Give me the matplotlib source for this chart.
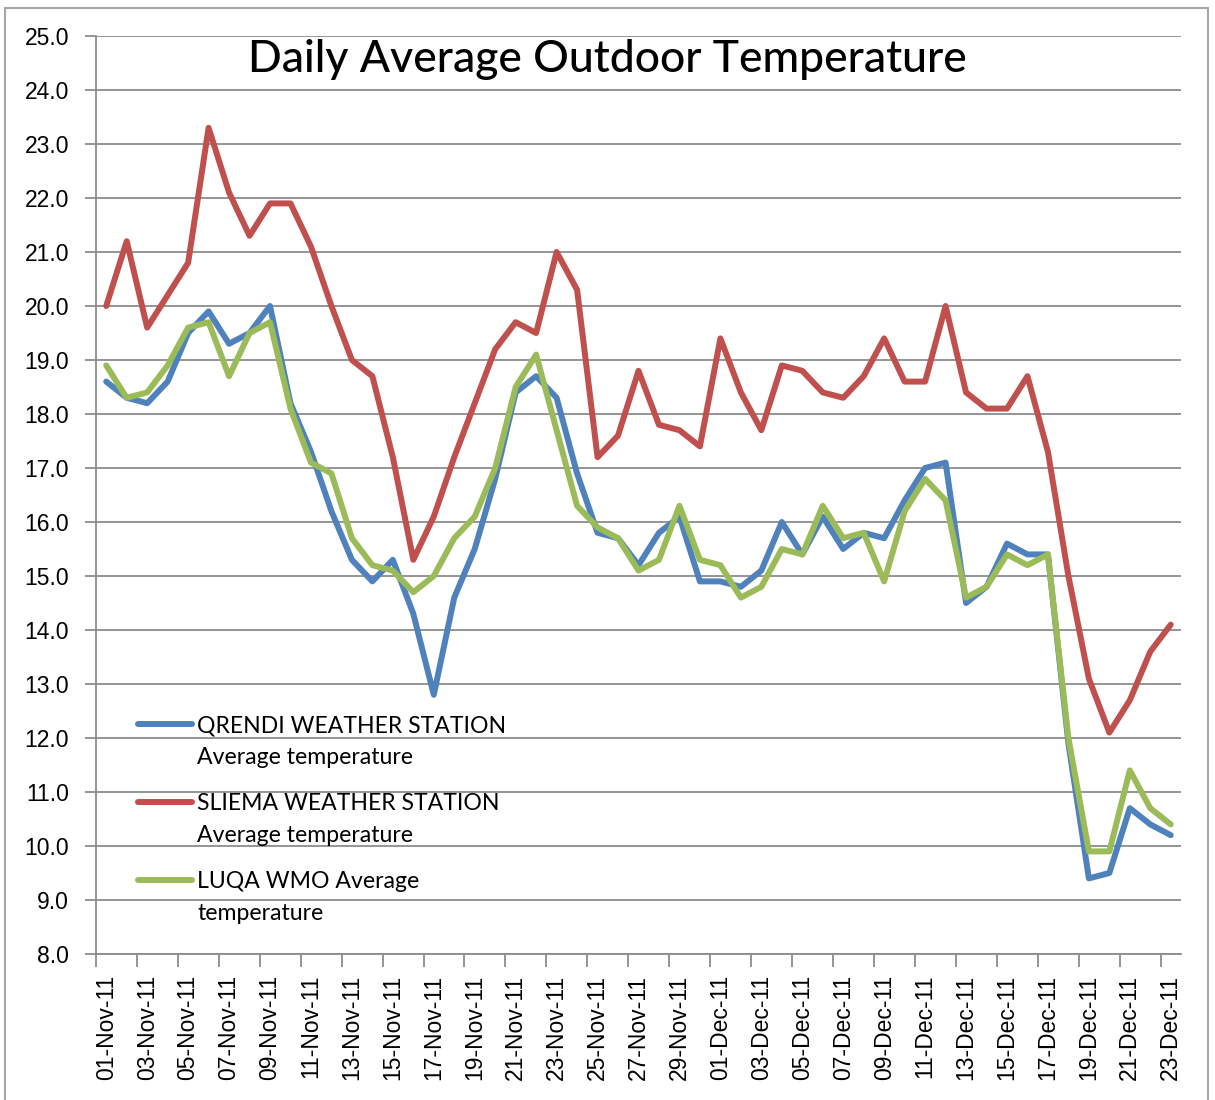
import matplotlib
matplotlib.use('Agg')
import matplotlib.pyplot as plt
from matplotlib.lines import Line2D
from matplotlib.patches import Rectangle
import numpy as np
import pandas as pd

# ---------------- data ----------------
dates = [d.strftime('%d-%b-%y') for d in pd.date_range('2011-11-01', '2011-12-23', freq='D')]

series_names = ["QRENDI WEATHER STATION\nAverage temperature",
                "SLIEMA WEATHER STATION\nAverage temperature",
                "LUQA WMO Average\ntemperature"]

qrendi = [18.6, 18.3, 18.2, 18.6, 19.5, 19.9, 19.3, 19.5, 20.0, 18.2,
          17.3, 16.2, 15.3, 14.9, 15.3, 14.3, 12.8, 14.6, 15.5, 16.8,
          18.4, 18.7, 18.3, 16.9, 15.8, 15.7, 15.2, 15.8, 16.1, 14.9,
          14.9, 14.8, 15.1, 16.0, 15.4, 16.1, 15.5, 15.8, 15.7, 16.4,
          17.0, 17.1, 14.5, 14.8, 15.6, 15.4, 15.4, 11.9, 9.4, 9.5,
          10.7, 10.4, 10.2]

sliema = [20.0, 21.2, 19.6, 20.2, 20.8, 23.3, 22.1, 21.3, 21.9, 21.9,
          21.1, 20.0, 19.0, 18.7, 17.2, 15.3, 16.1, 17.2, 18.2, 19.2,
          19.7, 19.5, 21.0, 20.3, 17.2, 17.6, 18.8, 17.8, 17.7, 17.4,
          19.4, 18.4, 17.7, 18.9, 18.8, 18.4, 18.3, 18.7, 19.4, 18.6,
          18.6, 20.0, 18.4, 18.1, 18.1, 18.7, 17.3, 15.0, 13.1, 12.1,
          12.7, 13.6, 14.1]

luqa = [18.9, 18.3, 18.4, 18.9, 19.6, 19.7, 18.7, 19.5, 19.7, 18.1,
        17.1, 16.9, 15.7, 15.2, 15.1, 14.7, 15.0, 15.7, 16.1, 17.0,
        18.5, 19.1, 17.7, 16.3, 15.9, 15.7, 15.1, 15.3, 16.3, 15.3,
        15.2, 14.6, 14.8, 15.5, 15.4, 16.3, 15.7, 15.8, 14.9, 16.2,
        16.8, 16.4, 14.6, 14.8, 15.4, 15.2, 15.4, 12.0, 9.9, 9.9,
        11.4, 10.7, 10.4]

colors = ['#4F81BD', '#C0504D', '#9BBB59']
title = "Daily Average Outdoor Temperature"

# ---------------- layout ----------------
W, H = 1215, 1100
plt.rcParams['font.family'] = ['Liberation Sans', 'DejaVu Sans']

def fx(px):
    return px / W

def fy(py):
    return 1 - py / H

fig = plt.figure(figsize=(W / 100, H / 100), dpi=100)
fig.patch.set_facecolor('white')

ax = fig.add_axes([fx(96), fy(954), fx(1181) - fx(96), fy(36) - fy(954)])
gray = '#8c8c8c'

x = np.arange(len(dates))
for vals, c in zip([qrendi, sliema, luqa], colors):
    ax.plot(x, vals, color=c, lw=4.3, solid_joinstyle='round', solid_capstyle='round', zorder=3)

ax.set_xlim(-0.5, len(dates) - 0.5)
ax.set_ylim(8, 25)
ax.set_yticks(np.arange(8, 25.1, 1))
ax.yaxis.set_major_formatter('{x:.1f}')
ax.grid(axis='y', color=gray, lw=1.3, zorder=0)
ax.set_axisbelow(True)

ax.set_xticks(np.arange(-0.5, len(dates) - 1, 2))
ax.set_xticklabels([])
ax.set_xticks(x[::2], minor=True)
ax.set_xticklabels(dates[::2], minor=True, rotation=90, fontsize=16.5)
ax.tick_params(axis='x', which='minor', length=0, pad=15)
ax.tick_params(axis='x', which='major', length=9, width=1.3, color=gray, direction='out')
ax.tick_params(axis='y', length=8, width=1.3, color=gray, pad=11.5, labelsize=16.5)

for s in ['top', 'right']:
    ax.spines[s].set_visible(False)
for s in ['left', 'bottom']:
    ax.spines[s].set_color(gray)
    ax.spines[s].set_linewidth(1.3)

# title
fig.text(fx(607.5), fy(72), title, ha='center', va='baseline',
         fontsize=32, weight='medium', family=['Lato', 'DejaVu Sans'])

# legend (drawn manually to align handle with first text line)
entry_y = [724, 802, 880]
for name, c, yy in zip(series_names, colors, entry_y):
    fig.add_artist(Line2D([fx(138), fx(192)], [fy(yy), fy(yy)], color=c, lw=4.3,
                          solid_capstyle='round', transform=fig.transFigure))
    l1, l2 = name.split('\n')
    fig.text(fx(197), fy(yy + 8), l1, ha='left', va='baseline', fontsize=16.6,
             family=['Lato', 'DejaVu Sans'])
    fig.text(fx(197), fy(yy + 40), l2, ha='left', va='baseline', fontsize=16.6,
             family=['Lato', 'DejaVu Sans'])

# outer chart border
fig.add_artist(Rectangle((fx(5), fy(1120)), fx(1208) - fx(5), fy(8) - fy(1120),
                         fill=False, edgecolor='#a6a6a6', lw=1.5,
                         transform=fig.transFigure))

fig.savefig('out.png', dpi=100)
